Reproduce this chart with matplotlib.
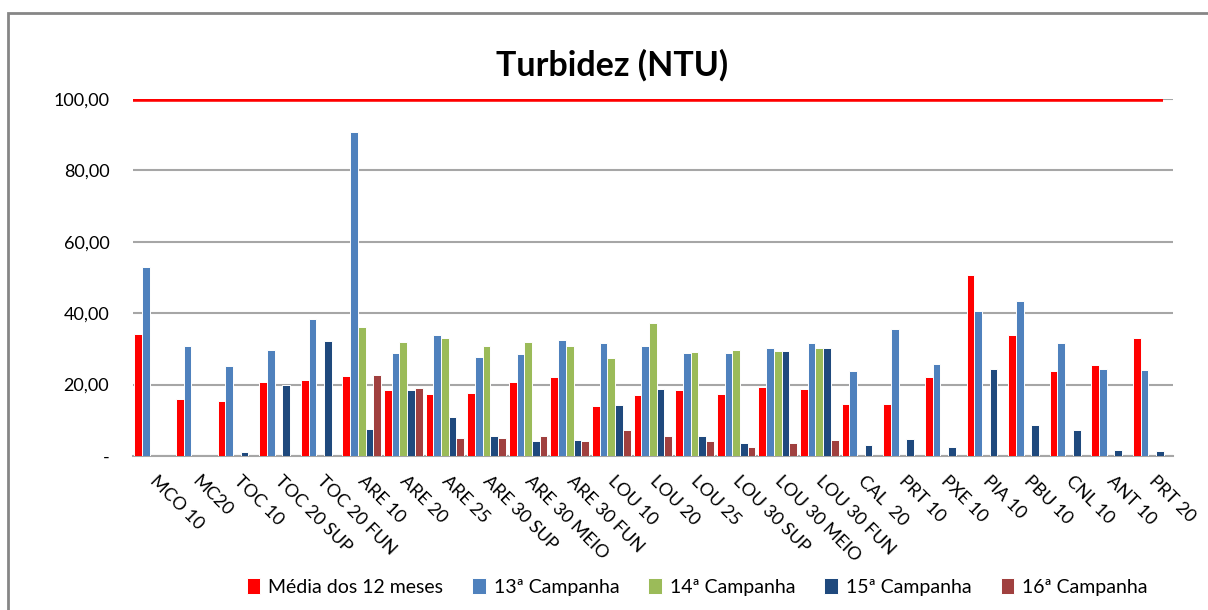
import numpy as np
import matplotlib.pyplot as plt
from matplotlib.patches import Rectangle

plt.rcParams['font.family'] = ['Lato', 'DejaVu Sans']

# Dados
estacoes = ['MCO 10', 'MC20', 'TOC 10', 'TOC 20 SUP', 'TOC 20 FUN', 'ARE 10', 'ARE 20',
            'ARE 25', 'ARE 30 SUP', 'ARE 30 MEIO', 'ARE 30 FUN', 'LOU 10', 'LOU 20',
            'LOU 25', 'LOU 30 SUP', 'LOU 30 MEIO', 'LOU 30 FUN', 'CAL  20', 'PRT 10',
            'PXE 10', 'PIA 10', 'PBU 10', 'CNL 10', 'ANT 10', 'PRT 20']
nan = np.nan
media12 = [34.2, 16.0, 15.3, 20.7, 21.4, 22.4, 18.4, 17.4, 17.6, 20.7, 22.1, 13.9, 17.0,
           18.4, 17.4, 19.4, 18.8, 14.6, 14.6, 22.0, 50.8, 33.9, 23.8, 25.5, 32.9]
camp13 = [52.8, 30.9, 25.1, 29.6, 38.3, 90.8, 28.8, 33.9, 27.8, 28.5, 32.6, 31.5, 30.9,
          28.8, 28.8, 30.1, 31.5, 23.8, 35.6, 25.7, 40.7, 43.4, 31.5, 24.4, 24.1]
camp14 = [nan, nan, nan, nan, nan, 36.0, 31.8, 32.9, 30.9, 31.9, 30.9, 27.4, 37.3,
          29.2, 29.8, 29.5, 30.1, nan, nan, nan, nan, nan, nan, nan, nan]
camp15 = [nan, nan, 1.1, 19.8, 32.2, 7.5, 18.4, 10.8, 5.5, 4.1, 4.4, 14.3, 18.8,
          5.5, 3.7, 29.5, 30.1, 3.2, 4.8, 2.5, 24.4, 8.6, 7.2, 1.8, 1.5]
camp16 = [nan, nan, nan, nan, nan, 22.8, 19.0, 5.1, 5.1, 5.5, 4.1, 7.2, 5.5,
          4.1, 2.4, 3.7, 4.4, nan, nan, nan, nan, nan, nan, nan, nan]
limite = 100.0

series = [media12, camp13, camp14, camp15, camp16]
nomes = ['Média dos 12 meses', '13ª Campanha', '14ª Campanha', '15ª Campanha', '16ª Campanha']
cores = ['#FF0000', '#4F81BD', '#9BBB59', '#1F497D', '#A0403F']

fig = plt.figure(figsize=(12.08, 6.10), dpi=100)
ax = fig.add_axes([0.110, 0.2525, 0.861, 0.5855])

x = np.arange(len(estacoes))
w = 0.185
for k, (vals, nome, cor) in enumerate(zip(series, nomes, cores)):
    ax.bar(x + (k - 2) * w, vals, w, color=cor, edgecolor='white', linewidth=0.7,
           label=nome, zorder=3)

# linha do limite (100 NTU)
ax.hlines(limite, -0.5, len(estacoes) - 0.75, color='#FF0000', linewidth=4, zorder=4)

ax.set_xlim(-0.5, len(estacoes) - 0.5)
ax.set_ylim(0, 100)
ax.set_yticks([0, 20, 40, 60, 80, 100])
ax.set_yticklabels(['-', '20,00', '40,00', '60,00', '80,00', '100,00'], fontsize=13)
ax.yaxis.grid(True, color='#A6A6A6', linewidth=1.5, zorder=0)
ax.set_axisbelow(True)
ax.tick_params(axis='y', length=0, pad=17)
ax.tick_params(axis='x', length=0, pad=12)
ax.set_xticks(x + 0.12)
ax.set_xticklabels(estacoes, rotation=-45, ha='left', va='top',
                   rotation_mode='anchor', fontsize=13)
for s in ['top', 'right', 'left']:
    ax.spines[s].set_visible(False)
ax.spines['bottom'].set_color('#A6A6A6')
ax.spines['bottom'].set_linewidth(1.5)

fig.text(0.507, 0.893, 'Turbidez (NTU)', ha='center', va='center',
         fontsize=24.5, fontweight='bold')

fig.legend(loc='center', bbox_to_anchor=(0.577, 0.038), ncol=5, frameon=False,
           fontsize=14, handlelength=0.7, handleheight=0.9, handletextpad=0.4,
           columnspacing=1.5)

# moldura do gráfico
fig.patches.append(Rectangle((8 / 1208, -0.1), 1.2, 1 - 13 / 610 + 0.1,
                             transform=fig.transFigure, fill=False,
                             edgecolor='#868686', linewidth=2))

fig.savefig('out.png', dpi=100)
